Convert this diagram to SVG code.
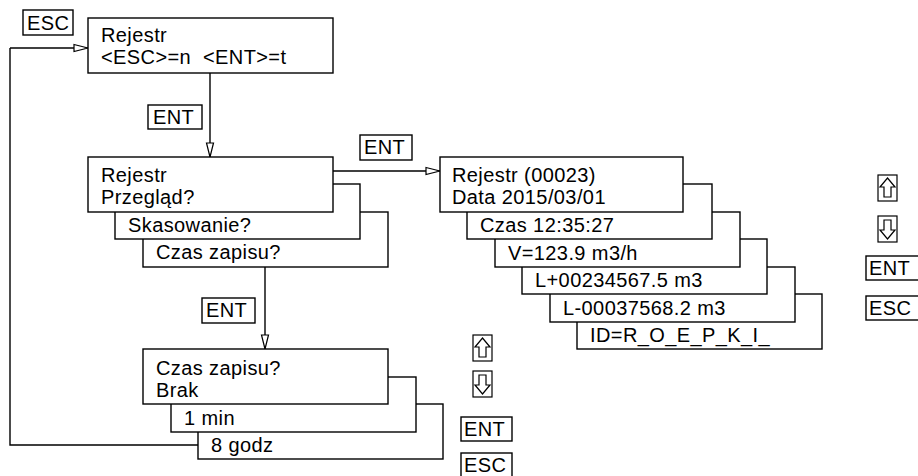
<svg xmlns="http://www.w3.org/2000/svg" width="918" height="476" viewBox="0 0 918 476">
<style>
.bx{fill:#fff;stroke:#000;stroke-width:1.4}
.ln{fill:none;stroke:#000;stroke-width:1.4}
text{font-family:"Liberation Sans",Arial,sans-serif;font-size:20px;letter-spacing:0.4px;fill:#000;white-space:pre}
.ic{fill:#fff;stroke:#000;stroke-width:1.2}
</style>
<defs>
<marker id="ah" markerWidth="16" markerHeight="10" refX="15" refY="5" orient="auto" markerUnits="userSpaceOnUse">
<path d="M1,1.5 L15,5 L1,8.5 Z" fill="#fff" stroke="#000" stroke-width="1.2"/>
</marker>
<g id="up"><rect x="0" y="0" width="19" height="26" class="ic"/><path d="M9.5,3 L17,12 L13,12 L13,22 L6,22 L6,12 L2,12 Z" class="ic"/></g>
<g id="dn"><rect x="0" y="0" width="19" height="26" class="ic"/><path d="M9.5,23 L17,14 L13,14 L13,4 L6,4 L6,14 L2,14 Z" class="ic"/></g>
</defs>
<g id="connectors">
<path class="ln" d="M10,48 H88" marker-end="url(#ah)"/>
<path class="ln" d="M10,48 V445 H198"/>
<path class="ln" d="M210,73 V157" marker-end="url(#ah)"/>
<path class="ln" d="M333,171 H440" marker-end="url(#ah)"/>
<path class="ln" d="M265,267 V349" marker-end="url(#ah)"/>
</g>
<g id="key-esc-top"><rect class="bx" x="23" y="10" width="50" height="25"/><text x="27" y="30">ESC</text></g>
<g id="key-ent-1"><rect class="bx" x="148" y="105" width="54" height="24"/><text x="153" y="124">ENT</text></g>
<g id="key-ent-2"><rect class="bx" x="360" y="135" width="52" height="25"/><text x="364" y="154">ENT</text></g>
<g id="key-ent-3"><rect class="bx" x="202" y="298" width="53" height="25"/><text x="206" y="317">ENT</text></g>
<g id="n-top"><rect class="bx" x="88" y="18" width="245" height="55"/><text x="101" y="42">Rejestr</text><text x="101" y="64" xml:space="preserve">&lt;ESC&gt;=n  &lt;ENT&gt;=t</text></g>
<g id="n-menu3"><rect class="bx" x="143" y="212" width="245" height="55"/><text x="156" y="259">Czas zapisu?</text></g>
<g id="n-menu2"><rect class="bx" x="115" y="184" width="245" height="55"/><text x="128" y="232">Skasowanie?</text></g>
<g id="n-menu1"><rect class="bx" x="88" y="157" width="245" height="55"/><text x="101" y="182">Rejestr</text><text x="101" y="204">Przegląd?</text></g>
<g id="n-t3"><rect class="bx" x="198" y="404" width="245" height="55"/><text x="211" y="452">8 godz</text></g>
<g id="n-t2"><rect class="bx" x="171" y="377" width="245" height="55"/><text x="184" y="425">1 min</text></g>
<g id="n-t1"><rect class="bx" x="143" y="349" width="245" height="55"/><text x="156" y="375">Czas zapisu?</text><text x="156" y="397">Brak</text></g>
<g id="n-r6"><rect class="bx" x="577" y="294" width="245" height="55"/><text x="590" y="342">ID=R_O_E_P_K_I_</text></g>
<g id="n-r5"><rect class="bx" x="550" y="267" width="245" height="55"/><text x="563" y="315">L-00037568.2 m3</text></g>
<g id="n-r4"><rect class="bx" x="522" y="239" width="245" height="55"/><text x="535" y="287">L+00234567.5 m3</text></g>
<g id="n-r3"><rect class="bx" x="495" y="212" width="245" height="55"/><text x="508" y="260">V=123.9 m3/h</text></g>
<g id="n-r2"><rect class="bx" x="467" y="184" width="245" height="55"/><text x="480" y="232">Czas 12:35:27</text></g>
<g id="n-r1"><rect class="bx" x="440" y="157" width="243" height="55"/><text x="452" y="182">Rejestr (00023)</text><text x="452" y="204">Data 2015/03/01</text></g>
<g id="keys-bottom">
<use href="#up" x="473" y="335"/>
<use href="#dn" x="473" y="371"/>
<rect class="bx" x="461" y="417" width="51" height="24"/><text x="464" y="436">ENT</text>
<rect class="bx" x="461" y="453" width="51" height="25"/><text x="464" y="472">ESC</text>
</g>
<g id="keys-right">
<use href="#up" x="878" y="175"/>
<use href="#dn" x="878" y="216"/>
<rect class="bx" x="866" y="256" width="56" height="24"/><text x="869" y="275">ENT</text>
<rect class="bx" x="866" y="296" width="56" height="24"/><text x="869" y="315">ESC</text>
</g>
</svg>
